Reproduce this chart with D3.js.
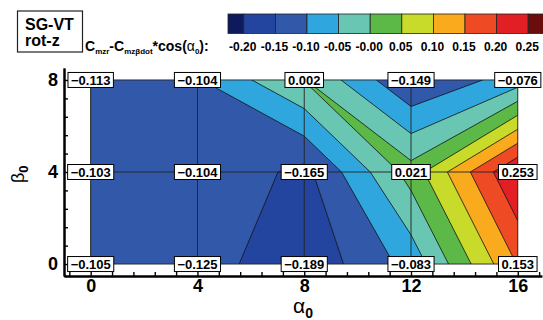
<!DOCTYPE html>
<html>
<head>
<meta charset="utf-8">
<script src="https://cdn.jsdelivr.net/npm/d3@7"></script>
<style>
  body { margin: 0; background: #fff; }
  svg { display: block; font-family: "Liberation Sans", Arial, sans-serif; }
</style>
</head>
<body>
<svg id="chart" width="543" height="320"></svg>
<script>

// ----- Data -----------------------------------------------------------------
var ALPHA = [0, 4, 8, 12, 16];
var BETA = [0, 4, 8];
var CMZ_BETA0 = [-0.105, -0.125, -0.189, -0.083, 0.153];
var CMZ_BETA4 = [-0.103, -0.104, -0.165, 0.021, 0.253];
var CMZ_BETA8 = [-0.113, -0.104, 0.002, -0.149, -0.076];
var CMZ_ROWS = [CMZ_BETA0, CMZ_BETA4, CMZ_BETA8];

var LEVELS = [-0.20, -0.15, -0.10, -0.05, 0.00, 0.05, 0.10, 0.15, 0.20, 0.25];
var LEVEL_LABELS = ['-0.20', '-0.15', '-0.10', '-0.05', '-0.00', '0.05', '0.10', '0.15', '0.20', '0.25'];
var BAND_COLORS = ['#0e1a5e', '#2345a0', '#3259a9', '#2fa6de', '#68c6b2', '#5cb947',
                   '#c8da2a', '#f9ab1d', '#ee4b25', '#e31f26', '#6b0d0d'];

var ALPHA_MINOR = d3.range(-1, 22).map((d) => +(d * 0.8).toFixed(1))
    .filter((d) => d > -1 && d < 16.9 && ALPHA.indexOf(d) < 0);
var BETA_MINOR = d3.range(1, 11).map((d) => +(d * 0.8).toFixed(1))
    .filter((d) => d < 8.5 && BETA.indexOf(d) < 0);

// ----- Setup ----------------------------------------------------------------
var svg = d3.select('#chart');
var x = d3.scaleLinear().domain([-1, 16.9]).range([64, 541.8]);
var y = d3.scaleLinear().domain([-0.52, 8.52]).range([276, 68]);

// grid coordinates of d3.contours -> data coordinates
var gridA = d3.scaleLinear().domain([0.5, ALPHA.length - 0.5]).range([ALPHA[0], ALPHA[ALPHA.length - 1]]);
var gridB = d3.scaleLinear().domain([0.5, BETA.length - 0.5]).range([BETA[0], BETA[BETA.length - 1]]);
var path = d3.geoPath(d3.geoTransform({
  point: function(gx, gy) { this.stream.point(x(gridA(gx)), y(gridB(gy))); }
}));

// contour the negated field so saddles keep the high corners joined;
// each contour is then the region "value <= level"
var values = [].concat.apply([], CMZ_ROWS).map((v) => -v);
var contours = d3.contours()
    .size([ALPHA.length, BETA.length])
    .thresholds(LEVELS.map((L) => -L))(values)
    .map((c) => {
      var k = LEVELS.findIndex((L) => Math.abs(L + c.value) < 1e-9);
      return {c: c, k: k};
    })
    .sort((d1, d2) => d2.k - d1.k);

svg.append('clipPath').attr('id', 'field')
  .append('rect')
    .attr('x', x(ALPHA[0])).attr('y', y(BETA[BETA.length - 1]))
    .attr('width', x(ALPHA[ALPHA.length - 1]) - x(ALPHA[0]))
    .attr('height', y(BETA[0]) - y(BETA[BETA.length - 1]));

var field = svg.append('g').attr('clip-path', 'url(#field)');

// top band first, then each "z <= level" region painted over it
field.append('rect')
    .attr('x', x(ALPHA[0])).attr('y', y(BETA[BETA.length - 1]))
    .attr('width', x(ALPHA[ALPHA.length - 1]) - x(ALPHA[0]))
    .attr('height', y(BETA[0]) - y(BETA[BETA.length - 1]))
    .attr('fill', BAND_COLORS[BAND_COLORS.length - 1]);

field.append('g').selectAll('path')
    .data(contours)
  .enter().append('path')
    .attr('d', (d) => path(d.c))
    .attr('fill', (d) => BAND_COLORS[d.k]);

field.append('g').selectAll('path')
    .data(contours)
  .enter().append('path')
    .attr('d', (d) => path(d.c))
    .attr('fill', 'none')
    .attr('stroke', '#111')
    .attr('stroke-width', 0.8);

// mesh lines
var mesh = svg.append('g').attr('stroke', '#222').attr('stroke-width', 0.9);
mesh.selectAll('.v').data(ALPHA).enter().append('line')
    .attr('x1', (d) => x(d)).attr('x2', (d) => x(d))
    .attr('y1', y(BETA[0])).attr('y2', y(BETA[BETA.length - 1]));
mesh.selectAll('.h').data(BETA).enter().append('line')
    .attr('y1', (d) => y(d)).attr('y2', (d) => y(d))
    .attr('x1', x(ALPHA[0])).attr('x2', x(ALPHA[ALPHA.length - 1]));

// ----- Axes -----------------------------------------------------------------
function styleAxis(g, size) {
  g.selectAll('.tick line').attr('stroke', '#000').attr('stroke-width', 1.4);
  g.select('.domain').attr('stroke', '#000').attr('stroke-width', 2);
  g.selectAll('text').attr('fill', '#000').attr('font-size', size).attr('font-weight', 'bold')
    .attr('font-family', '"Liberation Sans", Arial, sans-serif');
}

svg.append('g').attr('transform', 'translate(0,276)')
    .call(d3.axisBottom(x).tickValues(ALPHA_MINOR).tickSize(-4).tickSizeOuter(0).tickFormat(''))
    .call((g) => styleAxis(g, 18));
svg.append('g').attr('transform', 'translate(0,276)')
    .call(d3.axisBottom(x).tickValues(ALPHA).tickSize(-7).tickSizeOuter(0).tickPadding(3))
    .call((g) => styleAxis(g, 18));

svg.append('g').attr('transform', 'translate(64,0)')
    .call(d3.axisLeft(y).tickValues(BETA_MINOR).tickSize(-4).tickSizeOuter(0).tickFormat(''))
    .call((g) => styleAxis(g, 18));
svg.append('g').attr('transform', 'translate(64,0)')
    .call(d3.axisLeft(y).tickValues(BETA).tickSize(-7).tickSizeOuter(0).tickPadding(6))
    .call((g) => styleAxis(g, 18));

var xt = svg.append('text').attr('x', 293).attr('y', 313).attr('fill', '#000');
xt.append('tspan').attr('font-size', 21).text('α');
xt.append('tspan').attr('font-size', 14).attr('font-weight', 'bold').attr('dy', 5).text('0');

var yt = svg.append('text').attr('transform', 'translate(24,183) rotate(-90)').attr('fill', '#000');
yt.append('tspan').attr('font-size', 18).text('β');
yt.append('tspan').attr('font-size', 13).attr('font-weight', 'bold').attr('dy', 4).text('0');

// ----- Value labels ---------------------------------------------------------
var pts = [];
CMZ_ROWS.forEach((row, j) => row.forEach((v, i) => pts.push({a: ALPHA[i], b: BETA[j], z: v})));

var lab = svg.append('g').selectAll('g')
    .data(pts)
  .enter().append('g')
    .attr('transform', (d) => 'translate(' + x(d.a) + ',' + y(d.b) + ')');
lab.append('text')
    .attr('text-anchor', 'middle')
    .attr('dy', '0.36em')
    .attr('font-size', 13)
    .attr('font-weight', 'bold')
    .text((d) => d3.format('.3f')(d.z));
lab.each(function() {
  var g = d3.select(this);
  var w = g.select('text').node().getComputedTextLength() + 6;
  g.insert('rect', 'text')
      .attr('x', -w / 2).attr('y', -7.5)
      .attr('width', w).attr('height', 15)
      .attr('fill', '#fff').attr('stroke', '#000').attr('stroke-width', 1);
});

// ----- Title box ------------------------------------------------------------
svg.append('rect').attr('x', 17.5).attr('y', 11).attr('width', 65).attr('height', 41)
    .attr('fill', '#fff').attr('stroke', '#222').attr('stroke-width', 1.2);
svg.append('text').attr('x', 25).attr('y', 29.5).attr('font-size', 16).attr('font-weight', 'bold').text('SG-VT');
svg.append('text').attr('x', 25).attr('y', 45.5).attr('font-size', 16).attr('font-weight', 'bold').text('rot-z');

// ----- Colour bar -----------------------------------------------------------
var step = LEVELS[1] - LEVELS[0];
var cb = d3.scaleLinear()
    .domain([LEVELS[0] - step / 2, LEVELS[LEVELS.length - 1] + step / 2])
    .range([228, 544]);
var edges = [cb.domain()[0]].concat(LEVELS, [cb.domain()[1]]);

svg.append('g').selectAll('rect')
    .data(BAND_COLORS)
  .enter().append('rect')
    .attr('x', (d, k) => cb(edges[k]))
    .attr('width', (d, k) => cb(edges[k + 1]) - cb(edges[k]))
    .attr('y', 14).attr('height', 19.5)
    .attr('fill', (d) => d)
    .attr('stroke', '#222').attr('stroke-width', 0.8);

svg.append('g').selectAll('text')
    .data(LEVELS)
  .enter().append('text')
    .attr('x', (d) => cb(d) - 1)
    .attr('y', 51)
    .attr('text-anchor', 'middle')
    .attr('font-size', 12)
    .attr('font-weight', 'bold')
    .text((d, k) => LEVEL_LABELS[k]);

var ct = svg.append('text').attr('x', 85).attr('y', 51).attr('font-weight', 'bold').attr('font-size', 14);
ct.append('tspan').text('C');
ct.append('tspan').attr('font-size', 8).attr('dy', 3).text('mzr');
ct.append('tspan').attr('dy', -3).text('-C');
ct.append('tspan').attr('font-size', 8).attr('dy', 3).text('mzβdot');
ct.append('tspan').attr('dy', -3).text('*cos(');
ct.append('tspan').attr('font-weight', 'normal').text('α');
ct.append('tspan').attr('font-size', 8).attr('dy', 3).text('0');
ct.append('tspan').attr('dy', -3).text('):');

</script>
</body>
</html>
